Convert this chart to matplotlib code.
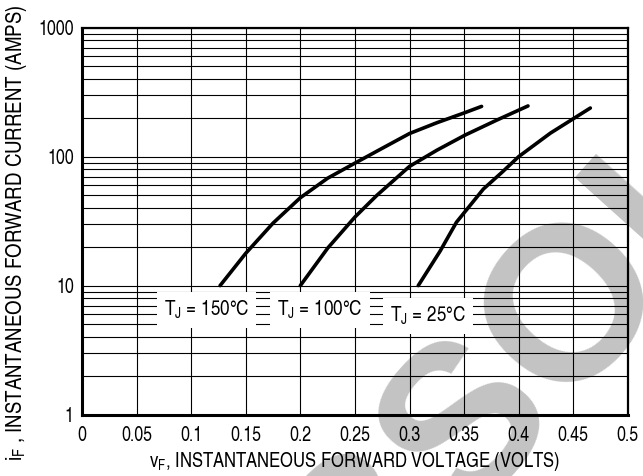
import matplotlib
matplotlib.use('Agg')
import matplotlib.pyplot as plt
from matplotlib.ticker import FixedLocator, NullFormatter, NullLocator

# forward characteristic
vf_150 = [0.1265, 0.15, 0.175, 0.2, 0.225, 0.25, 0.275, 0.3, 0.325, 0.35, 0.366]
if_150 = [10, 17.8, 30.5, 48, 68, 89, 116, 151, 183, 218, 245]

vf_100 = [0.2, 0.225, 0.25, 0.27, 0.3, 0.325, 0.351, 0.38, 0.4085]
if_100 = [10, 19.5, 34, 50, 84, 112, 147, 192, 247]

vf_25 = [0.308, 0.328, 0.343, 0.3676, 0.385, 0.4, 0.429, 0.4656]
if_25 = [10, 18.5, 31, 56, 76, 100, 152, 238]

x_ticks = [0, 0.05, 0.1, 0.15, 0.2, 0.25, 0.3, 0.35, 0.4, 0.45, 0.5]
x_ticklabels = ['0', '0.05', '0.1', '0.15', '0.2', '0.25', '0.3', '0.35', '0.4', '0.45', '0.5']
y_ticks = [1, 10, 100, 1000]
y_ticklabels = ['1', '10', '100', '1000']

labels = ['T$_{J}$ = 150°C', 'T$_{J}$ = 100°C', 'T$_{J}$ = 25°C']
label_pos = [(0.114, 6.5), (0.218, 6.5), (0.317, 5.8)]

FONT = ['TeX Gyre Heros Cn', 'DejaVu Sans']
plt.rcParams['font.family'] = FONT
plt.rcParams['mathtext.fontset'] = 'custom'
plt.rcParams['mathtext.rm'] = 'TeX Gyre Heros Cn'
plt.rcParams['mathtext.it'] = 'TeX Gyre Heros Cn'
plt.rcParams['mathtext.default'] = 'rm'

fig = plt.figure(figsize=(6.43, 4.76), dpi=100)
ax = fig.add_axes([0.1275, 0.129, 0.849, 0.813])
ax.set_facecolor('none')

# grey "OBSOLETE" stamp behind everything
fig.text(0.94, 0.42, 'OBSOLETE', fontsize=158, fontweight='bold',
         family=['Liberation Sans', 'DejaVu Sans'], color='#c3c3c3',
         rotation=48, rotation_mode='anchor', ha='center', va='center',
         zorder=-5)

ax.set_yscale('log')
ax.set_xlim(0, 0.5)
ax.set_ylim(1, 1000)

ax.xaxis.set_major_locator(FixedLocator(x_ticks))
ax.set_xticklabels(x_ticklabels)
ax.xaxis.set_minor_locator(NullLocator())
ax.yaxis.set_major_locator(FixedLocator(y_ticks))
ax.set_yticklabels(y_ticklabels)
minor = [m * 10 ** d for d in range(0, 3) for m in range(2, 10)]
ax.yaxis.set_minor_locator(FixedLocator(minor))
ax.yaxis.set_minor_formatter(NullFormatter())

ax.grid(True, which='both', color='black', linewidth=0.8)
ax.tick_params(which='both', length=0, labelsize=14)
ax.tick_params(axis='x', pad=8)
ax.tick_params(axis='y', pad=6)

for s in ['left', 'bottom']:
    ax.spines[s].set_linewidth(2.2)
for s in ['top', 'right']:
    ax.spines[s].set_linewidth(1.6)

for vx, iy in [(vf_150, if_150), (vf_100, if_100), (vf_25, if_25)]:
    ax.plot(vx, iy, color='black', linewidth=2.6, solid_capstyle='round',
            solid_joinstyle='round', zorder=4)

for txt, (lx, ly) in zip(labels, label_pos):
    ax.text(lx, ly, txt, fontsize=15, ha='center', va='center', zorder=5,
            bbox=dict(facecolor='white', edgecolor='none', pad=5))

ax.set_xlabel('v$_{F}$, INSTANTANEOUS FORWARD VOLTAGE (VOLTS)', fontsize=14.6, labelpad=4)
ax.set_ylabel('i$_{F}$ , INSTANTANEOUS FORWARD CURRENT (AMPS)', fontsize=16.4)
ax.yaxis.set_label_coords(-0.097, 0.47)

fig.savefig('out.png', dpi=100)
